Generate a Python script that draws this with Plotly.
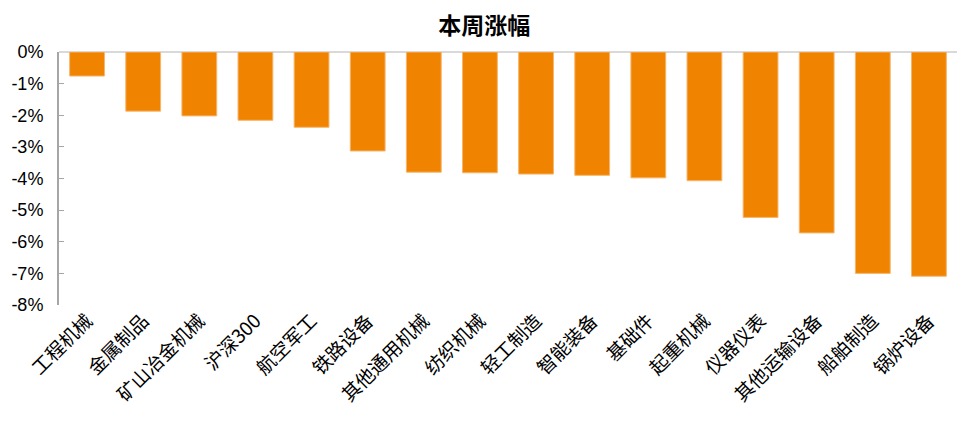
import plotly.graph_objects as go

categories = ["工程机械", "金属制品", "矿山冶金机械", "沪深300", "航空军工", "铁路设备",
              "其他通用机械", "纺织机械", "轻工制造", "智能装备", "基础件", "起重机械",
              "仪器仪表", "其他运输设备", "船舶制造", "锅炉设备"]
values = [-0.76, -1.87, -2.02, -2.16, -2.38, -3.13, -3.80, -3.82, -3.86, -3.90,
          -3.98, -4.07, -5.23, -5.72, -7.00, -7.09]
tick_vals = [0, -1, -2, -3, -4, -5, -6, -7, -8]
tick_text = ["0%", "-1%", "-2%", "-3%", "-4%", "-5%", "-6%", "-7%", "-8%"]

fig = go.Figure(go.Bar(
    x=categories, y=values,
    marker=dict(color="#F08300", line=dict(color="#F7B56B", width=1)),
))

fig.update_layout(
    width=957, height=426,
    margin=dict(l=59, r=0, t=52, b=121),
    paper_bgcolor="white", plot_bgcolor="white",
    bargap=0.38,
    showlegend=False,
    title=dict(text="<b>本周涨幅</b>", x=0.506, xanchor="center", y=0.94, yanchor="middle",
               font=dict(family="Noto Sans CJK SC", size=23, color="#000000")),
    xaxis=dict(tickangle=-45, showgrid=False, showline=False, ticks="",
               tickfont=dict(family="Noto Sans CJK SC", size=19, color="#000000")),
    yaxis=dict(range=[-8, 0], tickvals=tick_vals, ticktext=tick_text,
               showgrid=False, zeroline=True, zerolinecolor="#D9D9D9", zerolinewidth=2,
               showline=True, linecolor="#A6A6A6", linewidth=2,
               ticks="inside", ticklen=5, tickcolor="#A6A6A6", tickwidth=1,
               ticklabelstandoff=10,
               tickfont=dict(family="Liberation Sans Narrow, Liberation Sans", size=18, color="#000000")),
)

fig.write_html("out.html")
